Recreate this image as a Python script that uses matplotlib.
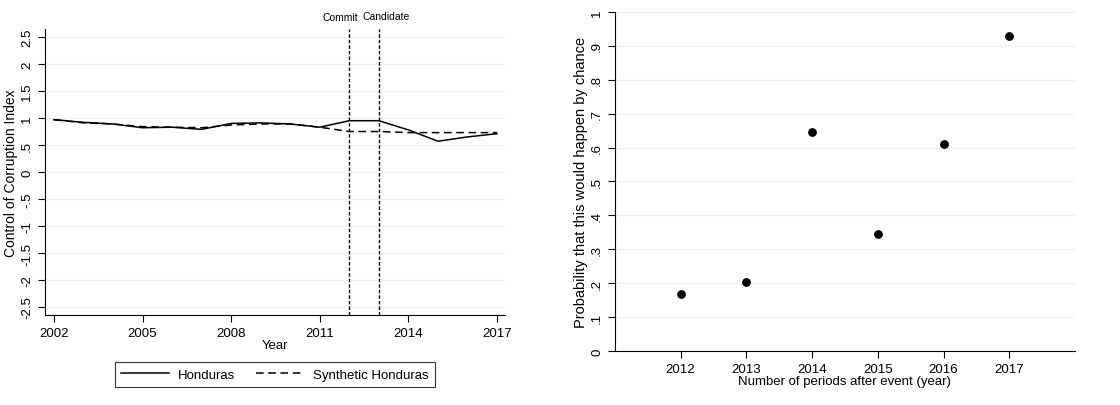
"""Honduras synthetic control + placebo probabilities"""

import numpy as np
import matplotlib.pyplot as plt

plt.rcParams['font.family'] = ['Liberation Sans', 'DejaVu Sans']

# Daten ---------------------------------------------------------
jahre = np.arange(2002, 2018)
honduras = [0.97, 0.92, 0.89, 0.82, 0.83, 0.79, 0.90, 0.91, 0.89, 0.83,
            0.95, 0.95, 0.78, 0.57, 0.65, 0.71]
synth_honduras = [0.97, 0.91, 0.89, 0.84, 0.83, 0.82, 0.87, 0.89, 0.89, 0.83,
                  0.75, 0.75, 0.73, 0.73, 0.73, 0.73]

ereignisse = [2012, 2013]
ereignis_text = ['Commit', 'Candidate']

perioden = [2012, 2013, 2014, 2015, 2016, 2017]
wahrscheinlichkeit = [0.168, 0.203, 0.646, 0.345, 0.610, 0.930]

gridfarbe = '#eaf2f3'

fig = plt.figure(figsize=(11.2, 4.06), dpi=100)
ax1 = fig.add_axes([0.0402, 0.2217, 0.4107, 0.7043])
ax2 = fig.add_axes([0.549, 0.133, 0.4108, 0.835])

for ax in (ax1, ax2):
    ax.spines['top'].set_visible(False)
    ax.spines['right'].set_visible(False)
    ax.set_axisbelow(True)
    ax.grid(axis='y', color=gridfarbe, linewidth=1.0)
    ax.tick_params(direction='out', length=5, width=0.8, labelsize=9.5)

# Linkes Diagramm -----------------------------------------------
ax1.plot(jahre, honduras, '-', color='black', linewidth=1.1, label='Honduras')
ax1.plot(jahre, synth_honduras, '--', color='black', linewidth=1.1,
         dashes=(5, 3), label='Synthetic Honduras')
for x in ereignisse:
    ax1.axvline(x, color='black', linestyle=(0, (2.5, 1.5)), linewidth=1.0)
# Beschriftung der Ereignisse (leicht versetzt wie im Original)
ax1.text(ereignisse[0] + 0.3, 2.77, ereignis_text[0], ha='right', va='bottom', fontsize=7.5)
ax1.text(ereignisse[1] - 0.54, 2.80, ereignis_text[1], ha='left', va='bottom', fontsize=7.5)

ax1.set_xlim(2001.7, 2017.27)
ax1.set_ylim(-2.648, 2.648)
ax1.set_xticks(np.arange(2002, 2018, 3))
yt1 = np.arange(-2.5, 2.6, 0.5)
ax1.set_yticks(yt1)
ax1.set_yticklabels([('%g' % v).replace('0.', '.') for v in yt1],
                    rotation=90, va='center')
ax1.set_xlabel('Year', fontsize=9.5, labelpad=0)
ax1.set_ylabel('Control of Corruption Index', fontsize=10, labelpad=2)

leg = fig.legend(*ax1.get_legend_handles_labels(), loc='center',
                 bbox_to_anchor=(0.2455, 0.075), ncol=2, frameon=True,
                 fancybox=False, edgecolor='black', fontsize=9.5,
                 handlelength=3.6, handletextpad=0.7, columnspacing=1.6,
                 borderpad=0.45, borderaxespad=0)
leg.get_frame().set_linewidth(0.8)

# Rechtes Diagramm ----------------------------------------------
ax2.scatter(perioden, wahrscheinlichkeit, s=28, color='black', zorder=3)
ax2.set_xlim(2011, 2018)
ax2.set_ylim(0, 1)
ax2.set_xticks(perioden)
yt2 = np.round(np.arange(0, 1.01, 0.1), 1)
ax2.set_yticks(yt2)
ax2.set_yticklabels([('%g' % v).replace('0.', '.') for v in yt2],
                    rotation=90, va='center')
ax2.set_xlabel('Number of periods after event (year)', fontsize=9.5, labelpad=0)
ax2.set_ylabel('Probability that this would happen by chance', fontsize=10.5, labelpad=2)

fig.savefig('out.png', dpi=100)
